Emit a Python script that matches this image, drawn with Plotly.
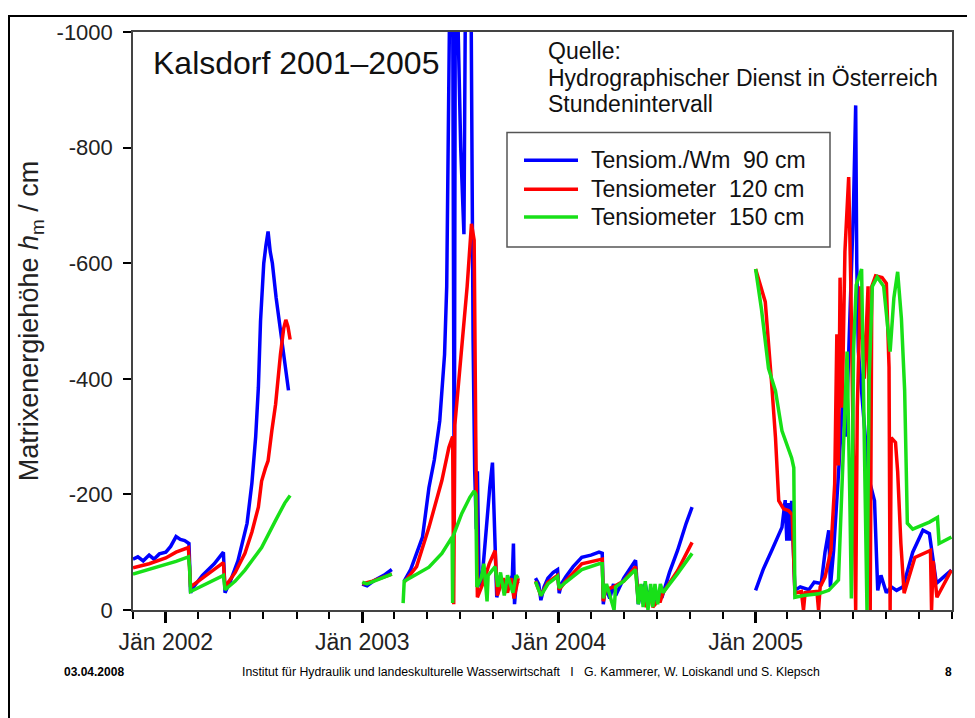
import plotly.graph_objects as go

# ---------------- data ----------------
blue_dates = [
    "2001-11-01", "2001-11-10", "2001-11-20", "2001-12-01", "2001-12-10", "2001-12-20",
    "2002-01-01", "2002-01-10", "2002-01-20", "2002-01-28", "2002-02-05", "2002-02-13",
    "2002-02-16", "2002-02-20", "2002-03-10", "2002-04-01", "2002-04-18", "2002-04-21",
    "2002-05-01", "2002-05-15", "2002-06-01", "2002-06-10", "2002-06-17", "2002-06-22",
    "2002-06-26", "2002-07-02", "2002-07-06", "2002-07-10", "2002-07-14", "2002-07-18",
    "2002-07-25", "2002-08-04", "2002-08-13", "2002-08-17", None,
    "2003-01-01", "2003-01-10", "2003-01-25", "2003-02-10", "2003-02-25", None,
    "2003-03-20", "2003-04-01", "2003-04-12", "2003-04-23", "2003-05-05", "2003-05-15",
    "2003-05-25", "2003-06-03", "2003-06-07", "2003-06-10", "2003-06-13", "2003-06-18",
    "2003-06-21", "2003-06-23", "2003-06-26", "2003-07-03", "2003-07-09", "2003-07-12",
    "2003-07-22", "2003-07-26", "2003-07-29", "2003-08-01", "2003-08-03", "2003-08-06",
    "2003-08-10", "2003-08-15", "2003-08-20", "2003-08-26", "2003-08-31", "2003-09-04",
    "2003-09-08", "2003-09-14", "2003-09-19", "2003-09-28", "2003-10-07", "2003-10-09",
    "2003-10-11", "2003-10-14", "2003-10-18", None,
    "2003-11-19", "2003-11-25", "2003-11-29", "2003-12-05", "2003-12-12", "2003-12-22",
    "2003-12-30", "2004-01-02", "2004-01-06", "2004-01-14", "2004-01-28", "2004-02-13",
    "2004-03-01", "2004-03-16", "2004-03-22", "2004-03-24", "2004-03-28", "2004-04-05",
    "2004-04-12", "2004-04-16", "2004-05-01", "2004-05-15", "2004-05-23", "2004-05-28",
    "2004-06-03", "2004-06-10", "2004-06-15", "2004-06-20", "2004-06-26", "2004-07-05",
    "2004-07-12", "2004-07-25", "2004-08-09", "2004-08-25", "2004-09-05", None,
    "2005-01-01", "2005-01-15", "2005-01-31", "2005-02-19", "2005-02-25", "2005-02-28",
    "2005-03-03", "2005-03-06", "2005-03-09", "2005-03-15", "2005-03-25", "2005-04-10",
    "2005-04-20", "2005-05-03", "2005-05-10", "2005-05-17", "2005-05-20", "2005-05-26",
    "2005-06-05", "2005-06-12", "2005-06-18", "2005-06-25", "2005-07-02", "2005-07-06",
    "2005-07-08", "2005-07-11", "2005-07-18", "2005-07-30", "2005-08-10", "2005-08-16",
    "2005-08-22", "2005-09-01", "2005-09-10", "2005-09-20", "2005-10-02", "2005-10-20",
    "2005-11-08", "2005-11-20", "2005-12-03", "2005-12-31",
]
blue_vals = [
    -88, -92, -85, -95, -88, -97,
    -100, -110, -127, -122, -120, -115,
    -30, -38, -60, -80, -100, -30,
    -50, -85, -150, -220, -300, -385,
    -500, -600, -630, -655, -620, -600,
    -540, -470, -418, -380, None,
    -45, -42, -52, -60, -70, None,
    -50, -70, -98, -126, -212, -260,
    -327, -442, -560, -750, -1100, -1100,
    -130, -1100, -1100, -800, -650, -1100,
    -1100, -470, -240, -140, -240, -60,
    -40, -90, -155, -212, -255, -150,
    -22, -45, -50, -40, -60, -115,
    -10, -45, -50, None,
    -55, -45, -17, -40, -55, -65,
    -70, -29, -45, -57, -75, -91,
    -95, -100, -98, -10, -40, -20,
    -45, -25, -55, -75, -86, -10,
    -35, -45, -20, -35, -10, -30,
    -25, -65, -103, -150, -178, None,
    -34, -70, -103, -143, -190, -120,
    -185, -120, -189, -34, -40, -35,
    -48, -46, -100, -138, -40, -103,
    -250, -366, -300, -500, -700, -873,
    -600, -447, -361, -229, -189, -34,
    -60, -30, -40, -34, -40, -100,
    -138, -132, -46, -69,
]

red_dates = [
    "2001-11-01", "2001-12-01", "2002-01-01", "2002-01-20", "2002-02-12", "2002-02-16",
    "2002-03-10", "2002-04-01", "2002-04-18", "2002-04-21", "2002-05-10", "2002-05-28",
    "2002-06-10", "2002-06-22", "2002-06-28", "2002-07-05", "2002-07-10", "2002-07-17",
    "2002-07-24", "2002-08-02", "2002-08-08", "2002-08-12", "2002-08-16", "2002-08-20", None,
    "2003-01-01", "2003-01-20", "2003-02-25", None,
    "2003-03-20", "2003-04-12", "2003-05-05", "2003-05-29", "2003-06-11", "2003-06-18",
    "2003-06-20", "2003-06-22", "2003-06-24", "2003-06-28", "2003-07-07", "2003-07-15",
    "2003-07-23", "2003-07-28", "2003-07-31", "2003-08-03", "2003-08-15", "2003-08-25",
    "2003-09-05", "2003-09-09", "2003-09-20", "2003-09-28", "2003-10-05", "2003-10-10",
    "2003-10-18", None,
    "2003-11-19", "2003-11-29", "2003-12-12", "2003-12-30", "2004-01-02", "2004-01-14",
    "2004-02-13", "2004-03-16", "2004-03-22", "2004-03-24", "2004-03-28", "2004-04-12",
    "2004-05-01", "2004-05-23", "2004-05-28", "2004-06-05", "2004-06-12", "2004-06-20",
    "2004-06-24", "2004-07-03", "2004-07-08", "2004-07-13", "2004-08-09", "2004-09-05", None,
    "2005-01-01", "2005-01-19", "2005-01-31", "2005-02-07", "2005-02-13", "2005-02-22",
    "2005-03-03", "2005-03-10", "2005-03-15", "2005-03-27", "2005-03-31", "2005-04-03",
    "2005-04-25", "2005-04-28", "2005-05-01", "2005-05-10", "2005-05-21", "2005-05-28",
    "2005-06-01", "2005-06-04", "2005-06-07", "2005-06-11", "2005-06-16", "2005-06-23",
    "2005-06-27", "2005-07-01", "2005-07-06", "2005-07-09", "2005-07-15", "2005-07-22",
    "2005-07-29", "2005-08-02", "2005-08-05", "2005-08-12", "2005-08-24", "2005-09-01",
    "2005-09-06", "2005-09-08", "2005-09-10", "2005-09-18", "2005-09-22", "2005-09-28",
    "2005-10-04", "2005-10-24", "2005-11-10", "2005-11-22", "2005-11-24", "2005-11-27",
    "2005-12-04", "2005-12-31",
]
red_vals = [
    -73, -80, -90, -100, -108, -40,
    -55, -70, -82, -40, -65, -98,
    -135, -178, -223, -245, -258, -310,
    -356, -442, -487, -502, -490, -468, None,
    -45, -50, -62, None,
    -48, -75, -143, -224, -281, -300,
    -10, -320, -340, -384, -470, -560,
    -668, -640, -300, -22, -50, -80,
    -103, -25, -55, -30, -55, -20,
    -55, None,
    -50, -25, -48, -60, -35, -50,
    -80, -88, -88, -15, -35, -40,
    -50, -75, -15, -35, -5, -25,
    -5, -15, -15, -30, -68, -117, None,
    -590, -533, -390, -298, -189, -175,
    -172, -165, -29, -32, 0, -30,
    -32, 0, -40, -57, -103, -218,
    -477, -250, -575, -350, -620, -749,
    -560, -300, 0, -350, -560, -400,
    -560, 0, -560, -578, -575, -565,
    -420, 0, -298, -290, -240, -115,
    -29, -91, -98, -103, 0, -85,
    -22, -69,
]

green_dates = [
    "2001-11-01", "2001-12-01", "2002-01-01", "2002-01-20", "2002-02-12", "2002-02-14",
    "2002-02-16", "2002-03-10", "2002-04-01", "2002-04-18", "2002-04-21", "2002-05-10",
    "2002-05-28", "2002-06-28", "2002-07-24", "2002-08-10", "2002-08-20", None,
    "2003-01-01", "2003-01-10", "2003-02-25", None,
    "2003-03-18", "2003-03-20", "2003-04-12", "2003-05-05", "2003-05-29", "2003-06-17",
    "2003-06-18", "2003-06-19", "2003-07-05", "2003-07-20", "2003-07-28", "2003-07-31",
    "2003-08-02", "2003-08-10", "2003-08-15", "2003-08-21", "2003-08-23", "2003-09-05",
    "2003-09-10", "2003-09-15", "2003-09-22", "2003-09-28", "2003-10-08", "2003-10-14",
    "2003-10-18", None,
    "2003-11-19", "2003-11-29", "2003-12-12", "2003-12-30", "2004-01-02", "2004-01-14",
    "2004-02-13", "2004-03-16", "2004-03-22", "2004-03-24", "2004-03-30", "2004-04-08",
    "2004-04-13", "2004-04-16", "2004-05-01", "2004-05-23", "2004-05-28", "2004-06-02",
    "2004-06-06", "2004-06-10", "2004-06-15", "2004-06-20", "2004-06-24", "2004-06-28",
    "2004-07-03", "2004-07-08", "2004-07-13", "2004-08-09", "2004-09-05", None,
    "2005-01-01", "2005-01-12", "2005-01-25", "2005-02-07", "2005-02-19", "2005-03-09",
    "2005-03-13", "2005-03-15", "2005-03-31", "2005-04-28", "2005-05-17", "2005-06-04",
    "2005-06-10", "2005-06-20", "2005-06-25", "2005-06-28", "2005-07-02", "2005-07-07",
    "2005-07-17", "2005-07-22", "2005-07-27", "2005-07-31", "2005-08-06", "2005-08-15",
    "2005-08-27", "2005-09-08", "2005-09-15", "2005-09-22", "2005-09-29", "2005-10-05",
    "2005-10-10", "2005-10-20", "2005-11-20", "2005-12-05", "2005-12-08", "2005-12-31",
]
green_vals = [
    -62, -70, -78, -84, -92, -75,
    -32, -42, -52, -60, -35, -50,
    -69, -108, -155, -185, -198, None,
    -48, -45, -62, None,
    -12, -50, -62, -74, -98, -126,
    -12, -128, -167, -195, -206, -200,
    -40, -55, -80, -15, -60, -75,
    -40, -65, -25, -60, -30, -60,
    -55, None,
    -49, -25, -45, -58, -38, -48,
    -70, -80, -80, -20, -45, -15,
    0, -40, -50, -70, -10, -45,
    -5, -50, 0, -45, -5, -45,
    -10, -45, -30, -63, -98, None,
    -590, -520, -418, -379, -310, -263,
    -246, -22, -25, -28, -34, -52,
    -200, -447, -200, -20, -450, -562,
    -590, -300, 0, -400, -560, -576,
    -560, -447, -540, -585, -504, -380,
    -150, -140, -152, -160, -115, -126,
]

series_names = ["Tensiom./Wm  90 cm", "Tensiometer  120 cm", "Tensiometer  150 cm"]
series_colors = ["#0000FF", "#FF0000", "#18E018"]

y_tickvals = [-1000, -800, -600, -400, -200, 0]
y_ticktext = ["-1000", "-800", "-600", "-400", "-200", "0"]
x_tickvals = ["2002-01-01", "2003-01-01", "2004-01-01", "2005-01-01"]
x_ticktext = ["Jän 2002", "Jän 2003", "Jän 2004", "Jän 2005"]

# ---------------- figure ----------------
FONT = "Liberation Sans, Arial, sans-serif"

fig = go.Figure()
for name, color, xs, ys in zip(series_names, series_colors,
                               [blue_dates, red_dates, green_dates],
                               [blue_vals, red_vals, green_vals]):
    fig.add_trace(go.Scatter(
        x=xs, y=ys, name=name, mode="lines",
        line=dict(color=color, width=3.5), connectgaps=False, showlegend=False,
    ))

OFF = 8  # page body margin of the html page
W, H = 975, 718
pw, ph = 819, 581
L, T = 133 - OFF, 29 - OFF
R, B = W - L - pw, H - T - ph


def px_x(p):
    return (p - OFF - L) / pw


def px_y(p):
    return (T + ph - (p - OFF)) / ph


fig.update_layout(
    width=W, height=H,
    margin=dict(l=L, r=R, t=T, b=B, pad=0),
    paper_bgcolor="white", plot_bgcolor="white",
    font=dict(family=FONT, color="black"),
    showlegend=False,
    xaxis=dict(
        type="date", range=["2001-11-01", "2006-01-01"],
        tickmode="array", tickvals=x_tickvals, ticktext=x_ticktext,
        ticks="outside", ticklen=11, tickwidth=2.5, tickcolor="black",
        tickfont=dict(size=23, family=FONT, color="#222222"),
        ticklabelstandoff=0,
        minor=dict(dtick="M2", tick0="2001-11-01", ticks="outside",
                   ticklen=7, tickwidth=1.5, tickcolor="black", showgrid=False),
        showline=True, linecolor="#444444", linewidth=1.5, mirror=True,
        showgrid=False, zeroline=False,
    ),
    yaxis=dict(
        range=[0, -1000],
        tickmode="array", tickvals=y_tickvals, ticktext=y_ticktext,
        ticks="outside", ticklen=8, tickwidth=1.5, tickcolor="black",
        tickfont=dict(size=22, family=FONT, color="#222222"),
        ticklabelstandoff=6,
        showline=True, linecolor="#444444", linewidth=1.5, mirror=True,
        showgrid=False, zeroline=False,
        title=dict(text="Matrixenergiehöhe <i>h</i><sub>m</sub> / cm",
                   font=dict(size=27, family=FONT, color="#222222"),
                   standoff=10),
    ),
)

ann = []
ann.append(dict(text="Kalsdorf 2001–2005", x=px_x(151), y=px_y(60),
                xanchor="left", yanchor="middle",
                font=dict(size=32, family=FONT, color="#111111")))
for txt, yy in [("Quelle:", 48), ("Hydrographischer Dienst in Österreich", 75),
                ("Stundenintervall", 101)]:
    ann.append(dict(text=txt, x=px_x(546), y=px_y(yy), xanchor="left",
                    yanchor="middle", font=dict(size=23, family=FONT, color="#111111")))

# legend box (drawn manually to match the reference layout)
fig.add_shape(type="rect", xref="paper", yref="paper",
              x0=px_x(507), x1=px_x(830), y0=px_y(245), y1=px_y(130),
              line=dict(color="#555555", width=1.5), fillcolor="white", layer="above")
for name, color, yy in zip(series_names, series_colors, [158, 187, 215]):
    fig.add_shape(type="line", xref="paper", yref="paper",
                  x0=px_x(524), x1=px_x(578), y0=px_y(yy), y1=px_y(yy),
                  line=dict(color=color, width=3.5), layer="above")
    ann.append(dict(text=name.replace("  ", "\u00a0\u00a0"), x=px_x(589), y=px_y(yy),
                    xanchor="left", yanchor="middle",
                    font=dict(size=23, family=FONT, color="#111111")))

ann.append(dict(text="<b>03.04.2008</b>", x=px_x(62), y=px_y(672), xanchor="left",
                yanchor="middle", font=dict(size=12, family=FONT, color="black")))
ann.append(dict(text="Institut für Hydraulik und landeskulturelle Wasserwirtschaft"
                     "\u00a0\u00a0\u00a0I\u00a0\u00a0\u00a0G. Kammerer, W. Loiskandl und S. Klepsch",
                x=px_x(531), y=px_y(672), xanchor="center", yanchor="middle",
                font=dict(size=12.3, family=FONT, color="black")))
ann.append(dict(text="<b>8</b>", x=px_x(948), y=px_y(672), xanchor="center",
                yanchor="middle", font=dict(size=12, family=FONT, color="black")))
for a in ann:
    a.update(xref="paper", yref="paper", showarrow=False)
fig.update_layout(annotations=ann)

# slide frame
fig.add_shape(type="rect", xref="paper", yref="paper",
              x0=px_x(9), x1=px_x(968), y0=px_y(740), y1=px_y(13),
              line=dict(color="black", width=2), fillcolor="rgba(0,0,0,0)")

fig.write_html("out.html")
